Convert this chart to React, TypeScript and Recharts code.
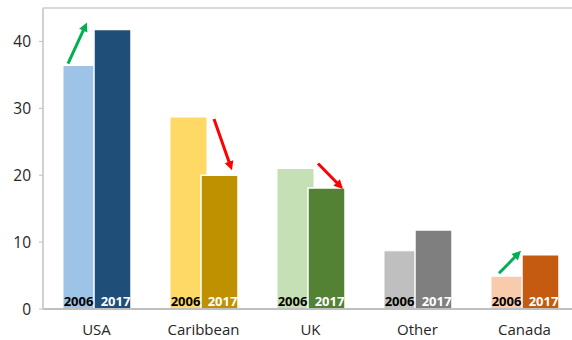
import React from 'react';
import { BarChart, Bar, XAxis, YAxis, Cell, ReferenceLine } from 'recharts';

const categories = ['USA', 'Caribbean', 'UK', 'Other', 'Canada'];
const values2006 = [36.4, 28.7, 21.0, 8.7, 4.9];
const values2017 = [41.8, 20.0, 18.1, 11.8, 8.1];
const yTicks = [0, 10, 20, 30, 40];

const colors2006 = ['#9DC3E6', '#FFD966', '#C5E0B4', '#BFBFBF', '#F8CBAD'];
const colors2017 = ['#1F4E79', '#BF9000', '#548235', '#7F7F7F', '#C55A11'];

const data = categories.map((name, i) => ({ name, y2006: values2006[i], y2017: values2017[i] }));

const BAR_GAP = -6;
const FONT = '"Open Sans", "Noto Sans", sans-serif';

// hand-placed arrow ends, relative to the bars: [startBar, sx, sy, ex, ey]
// startBar 0 = measure start x from the 2006 bar, 1 = from the 2017 bar
const arrowTweaks: [number, number, number, number, number][] = [
  [0, 5, -2, -7, -7],
  [1, 13, 2, 31, -5],
  [1, 10, -5, 35, 1],
  [0, 8, -3, -1, -4],
];

const Arrow = ({ x1, y1, x2, y2, color }: { x1: number; y1: number; x2: number; y2: number; color: string }) => {
  const dx = x2 - x1;
  const dy = y2 - y1;
  const len = Math.sqrt(dx * dx + dy * dy);
  const ux = dx / len;
  const uy = dy / len;
  const head = 9;
  const half = 4.5;
  const bx = x2 - ux * head;
  const by = y2 - uy * head;
  const pts = `${x2},${y2} ${bx - uy * half},${by + ux * half} ${bx + uy * half},${by - ux * half}`;
  return (
    <g>
      <line x1={x1} y1={y1} x2={bx + ux} y2={by + uy} stroke={color} strokeWidth={3} />
      <polygon points={pts} fill={color} />
    </g>
  );
};

const label2006 = (props: any) => {
  const { x, y, width, height, index } = props;
  const bottom = y + height;
  const ppu = height / values2006[index];
  const top2017 = bottom - values2017[index] * ppu;
  const x2017 = x + width + BAR_GAP;
  let arrow = null;
  const t = index < 3 ? arrowTweaks[index] : index === 4 ? arrowTweaks[3] : null;
  if (t) {
    const up = values2017[index] > values2006[index];
    const sx = (t[0] === 0 ? x : x2017) + t[1];
    arrow = (
      <Arrow
        x1={sx}
        y1={y + t[2]}
        x2={x2017 + t[3]}
        y2={top2017 + t[4]}
        color={up ? '#00B050' : '#FF0000'}
      />
    );
  }
  return (
    <g>
      <text x={x + (width + BAR_GAP) / 2} y={bottom - 3} textAnchor="middle" fill="#000" fontSize={13} fontWeight={700} fontFamily={FONT}>
        2006
      </text>
      {arrow}
    </g>
  );
};

const label2017 = (props: any) => {
  const { x, y, width, height } = props;
  return (
    <text x={x + width / 2 + 3} y={y + height - 3} textAnchor="middle" fill="#fff" fontSize={13} fontWeight={700} fontFamily={FONT}>
      2017
    </text>
  );
};

export default function App() {
  return (
    <div style={{ position: 'absolute', left: 0, top: 0, width: 572, height: 340, overflow: 'hidden', background: '#fff' }}>
      <BarChart
        width={590}
        height={340}
        data={data}
        margin={{ top: 8, right: 12, left: 0, bottom: 0 }}
        barGap={BAR_GAP}
        barSize={37}
      >
        <ReferenceLine y={45} stroke="#D9D9D9" strokeWidth={2} />
        <XAxis
          dataKey="name"
          height={31}
          tickLine={false}
          axisLine={{ stroke: '#BFBFBF', strokeWidth: 2 }}
          tick={{ fill: '#262626', fontSize: 15, fontFamily: FONT }}
          tickMargin={9}
          interval={0}
        />
        <YAxis
          width={43}
          domain={[0, 45]}
          ticks={yTicks}
          tickSize={4}
          tickLine={{ stroke: '#BFBFBF' }}
          axisLine={{ stroke: '#D0D0D0', strokeWidth: 2 }}
          tick={{ fill: '#262626', fontSize: 15.5, fontFamily: FONT }}
          tickMargin={8}
        />
        <Bar dataKey="y2006" isAnimationActive={false} stroke="#fff" strokeWidth={1} label={label2006}>
          {categories.map((c, i) => (
            <Cell key={c} fill={colors2006[i]} />
          ))}
        </Bar>
        <Bar dataKey="y2017" isAnimationActive={false} stroke="#fff" strokeWidth={1.5} label={label2017}>
          {categories.map((c, i) => (
            <Cell key={c} fill={colors2017[i]} />
          ))}
        </Bar>
      </BarChart>
    </div>
  );
}
